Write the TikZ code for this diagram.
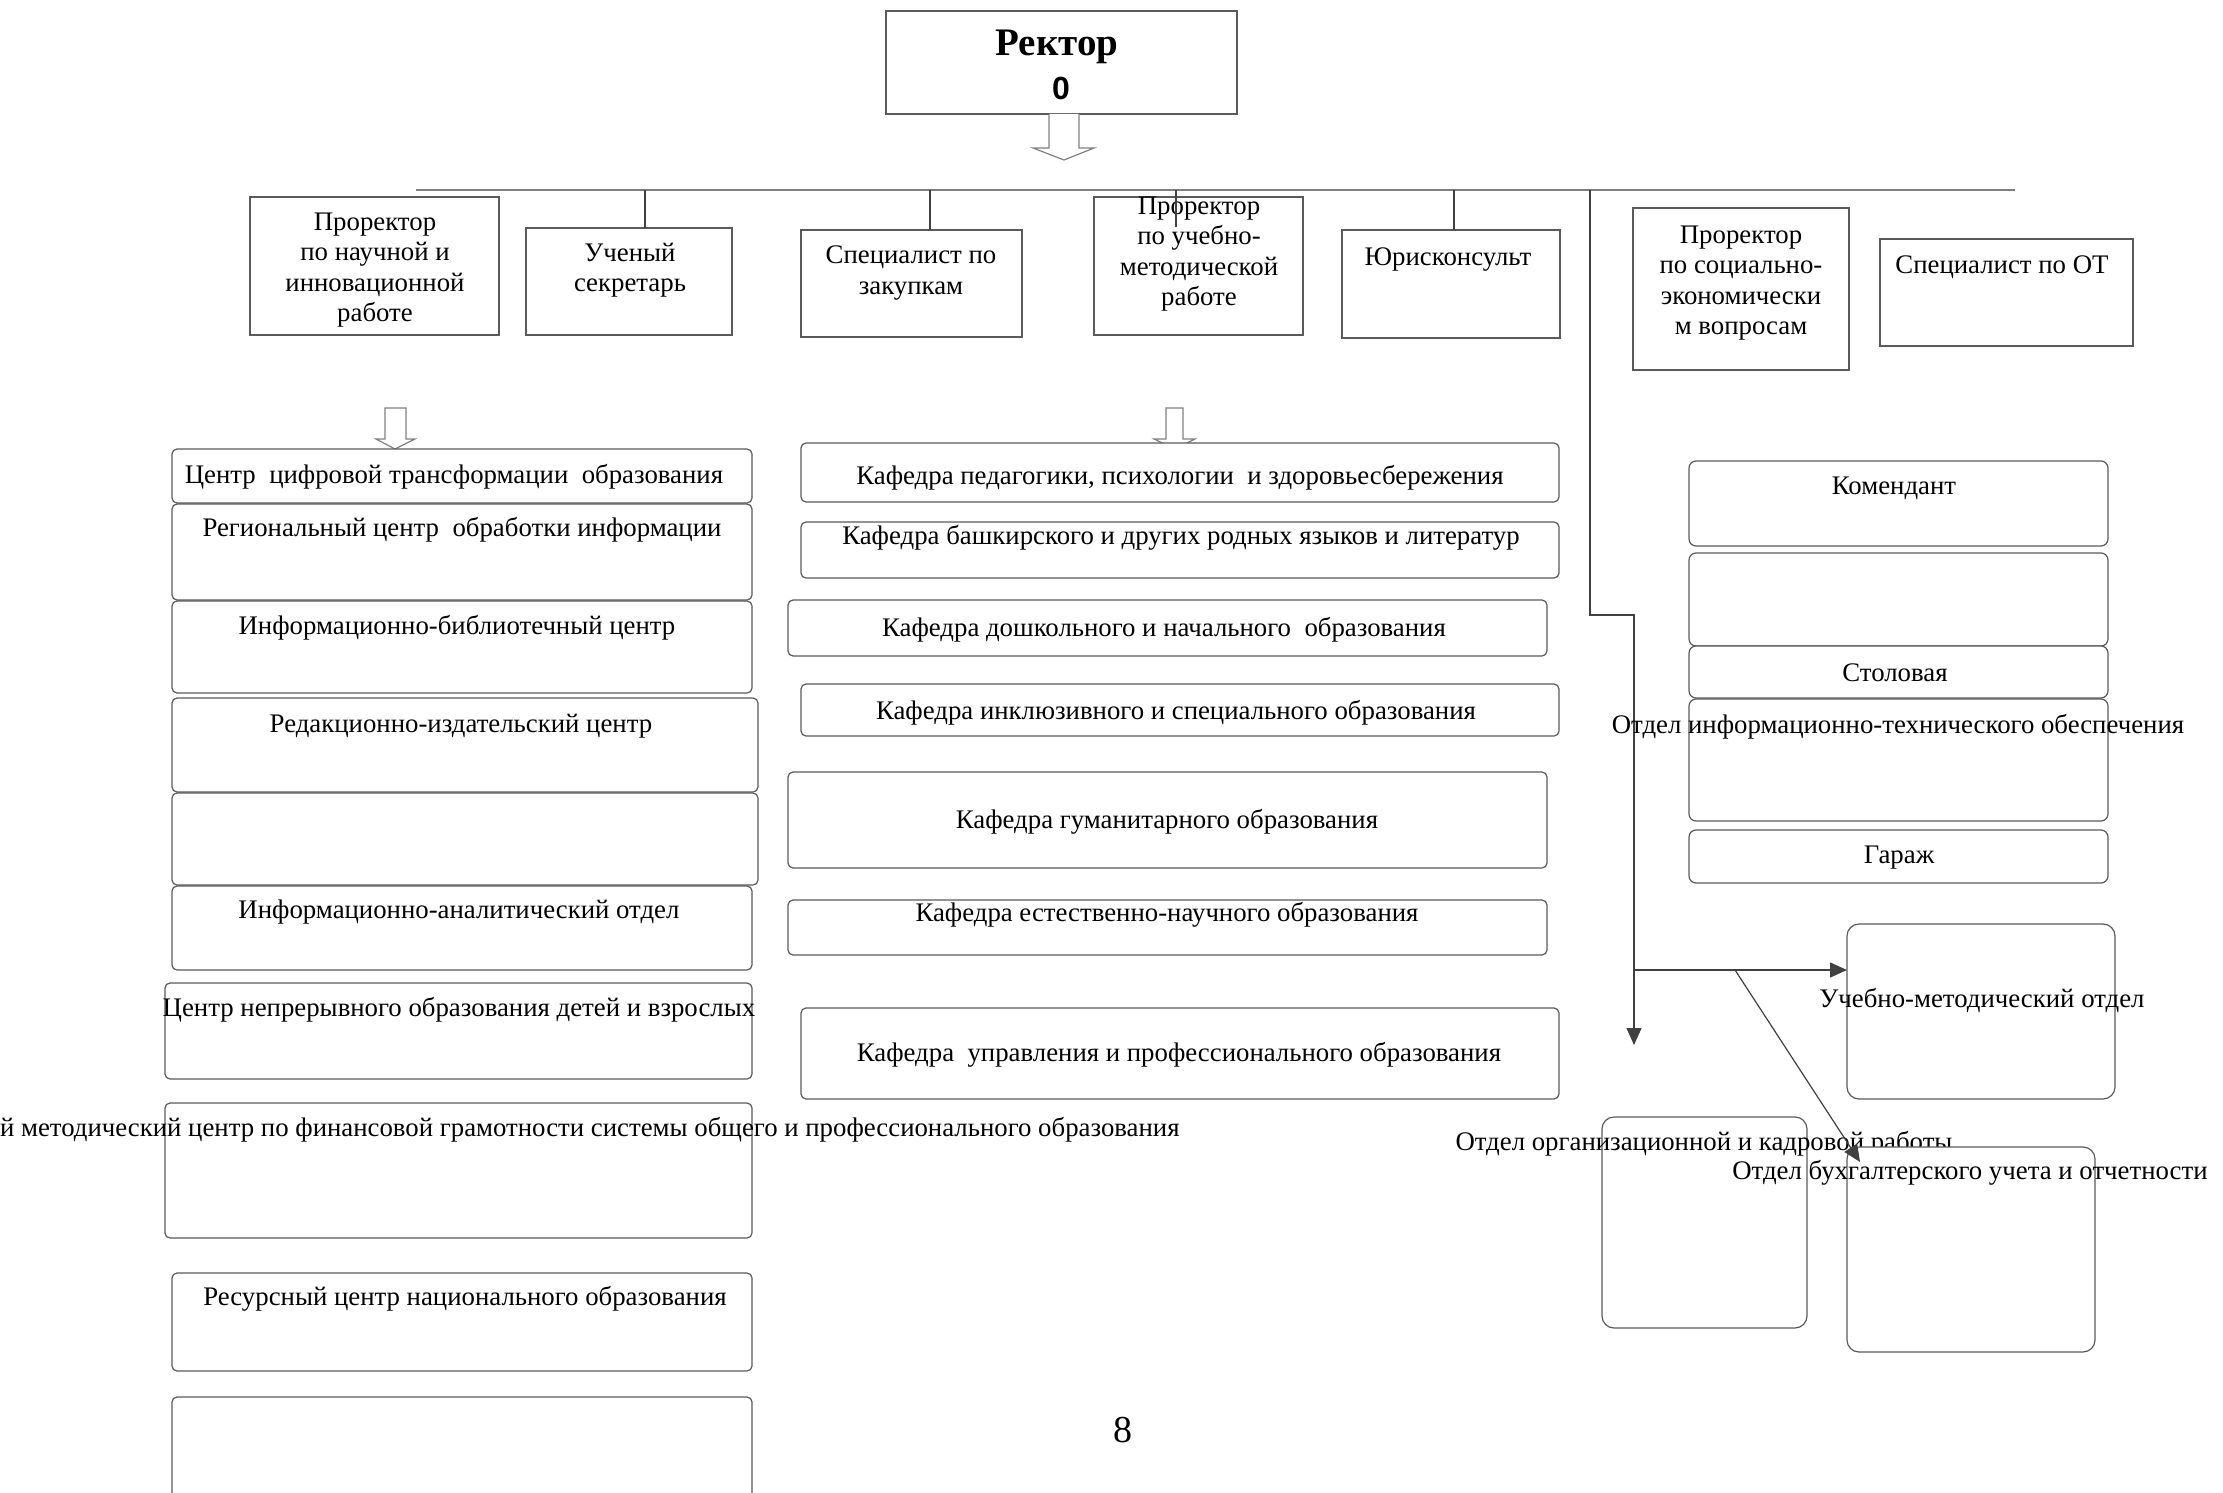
\documentclass[tikz,border=0pt]{standalone}
\usepackage{fontspec}
\setmainfont{Liberation Serif}
\newfontfamily\arialfont{Liberation Sans}
\usetikzlibrary{arrows.meta}
\definecolor{boxgray}{HTML}{5A5A5A}
\definecolor{linegray}{HTML}{808080}
\definecolor{conngray}{HTML}{404040}
\newcommand{\mkbox}[6][]{\node[box,#1,minimum width={(#4-#2)*0.5pt},minimum height={(#5-#3)*0.5pt}] (#6) at ({(#2+#4)/2},{(#3+#5)/2}) {};}
\tikzset{
  box/.style={draw=boxgray, line width=0.6pt, fill=white, inner sep=0pt, outer sep=0pt},
  rbox/.style={rounded corners=2.5pt},
  bigr/.style={rounded corners=6pt},
  lbl/.style={font=\fontsize{13.4}{15.3}\selectfont, inner sep=0pt, align=center},
  conn/.style={draw=conngray, line width=0.6pt},
  mainline/.style={draw=linegray, line width=1.1pt},
  tip/.style={-{Triangle[length=8.5pt,width=7.5pt]}},
  blockarrow/.style={draw=linegray, line width=0.6pt, fill=white}
}
\begin{document}
\begin{tikzpicture}[x=0.5pt,y=-0.5pt]
\useasboundingbox (0,0) rectangle (2223,1493);
\clip (0,0) rectangle (2223,1493);

% Rector
\mkbox{886}{11}{1237}{114}{rector}
\node[font=\fontsize{19.5}{20}\selectfont\bfseries, inner sep=0pt] (rt) at (1057,47) {Ректор};
\node[font=\arialfont\bfseries\fontsize{16}{18}\selectfont, inner sep=0pt] (r0) at (1061,88) {0};
\draw[blockarrow] (1049,114) -- (1049,148) -- (1033,148) -- (1064,160) -- (1094,148) -- (1079,148) -- (1079,114);

% main horizontal line
\coordinate (hl) at (416,190);
\coordinate (hr) at (2015,190);
\draw[mainline] (hl) -- (hr);

% top row boxes
\mkbox{250}{197}{499}{335}{pnr}
\mkbox{526}{228}{732}{335}{sec}
\mkbox{801}{230}{1022}{337}{zak}
\mkbox{1094}{197}{1303}{335}{pum}
\mkbox{1342}{230}{1560}{338}{jur}
\mkbox{1633}{208}{1849}{370}{pse}
\mkbox{1880}{239}{2133}{346}{sot}

\node[lbl] (tpnr) at (375,270) {Проректор\\по научной и\\инновационной\\работе};
\node[lbl] (tsec) at (630,270) {Ученый\\секретарь};
\node[lbl] (tzak) at (911,273) {Специалист по\\закупкам};
\node[lbl] (tpum) at (1199,254) {Проректор\\по учебно-\\методической\\работе};
\node[lbl] (tjur) at (1448,260) {Юрисконсульт};
\node[lbl] (tpse) at (1741,283) {Проректор\\по социально-\\экономически\\м вопросам};
\node[lbl] (tsot) at (2002,267) {Специалист по ОТ};

% connectors from main line
\coordinate (j1) at (645,190);
\coordinate (j2) at (930,190);
\coordinate (j3) at (1176,190);
\coordinate (j3e) at (1176,227);
\coordinate (j4) at (1454,190);
\coordinate (j5) at (1590,190);
\draw[conn] (j1) -- (j1 |- sec.north);
\draw[conn] (j2) -- (j2 |- zak.north);
\draw[conn] (j3) -- (j3e);
\draw[conn] (j4) -- (j4 |- jur.north);

% left block arrow
\draw[blockarrow] (385,408) -- (385,439) -- (376,439) -- (395,449) -- (415,439) -- (406,439) -- (406,408) -- cycle;
% middle block arrow
\draw[blockarrow] (1166,408) -- (1166,439) -- (1154,439) -- (1175,449) -- (1195,439) -- (1183,439) -- (1183,408) -- cycle;

% left column
\mkbox[rbox]{172}{449}{752}{503}{l1}
\mkbox[rbox]{172}{504}{752}{600}{l2}
\mkbox[rbox]{172}{601}{752}{693}{l3}
\mkbox[rbox]{172}{698}{758}{792}{l4}
\mkbox[rbox]{172}{793}{758}{885}{l5}
\mkbox[rbox]{172}{886}{752}{970}{l6}
\mkbox[rbox]{165}{983}{752}{1079}{l7}
\mkbox[rbox]{165}{1103}{752}{1238}{l8}
\mkbox[rbox]{172}{1273}{752}{1371}{l9}
\mkbox[rbox]{172}{1397}{752}{1560}{l10}

\node[lbl] (tl1) at (454,477) {Центр\ \ цифровой трансформации\ \ образования};
\node[lbl] (tl2) at (462,530) {Региональный центр\ \ обработки информации};
\node[lbl] (tl3) at (457,628) {Информационно-библиотечный центр};
\node[lbl] (tl4) at (461,726) {Редакционно-издательский центр};
\node[lbl] (tl6) at (459,912) {Информационно-аналитический отдел};
\node[lbl] (tl7) at (459,1010) {Центр непрерывного образования детей и взрослых};
\node[lbl, anchor=east] (tl8) at (1180,1130) {Республиканский методический центр по финансовой грамотности системы общего и профессионального образования};
\node[lbl] (tl9) at (465,1299) {Ресурсный центр национального образования};

% middle column
\mkbox[rbox]{801}{443}{1559}{502}{k1}
\mkbox[rbox]{801}{522}{1559}{578}{k2}
\mkbox[rbox]{788}{600}{1547}{656}{k3}
\mkbox[rbox]{801}{684}{1559}{736}{k4}
\mkbox[rbox]{788}{772}{1547}{868}{k5}
\mkbox[rbox]{788}{900}{1547}{955}{k6}
\mkbox[rbox]{801}{1008}{1559}{1099}{k7}

\node[lbl] (tk1) at (1180,478) {Кафедра педагогики, психологии\ \ и здоровьесбережения};
\node[lbl] (tk2) at (1181,538) {Кафедра башкирского и других родных языков и литератур};
\node[lbl] (tk3) at (1164,630) {Кафедра дошкольного и начального\ \ образования};
\node[lbl] (tk4) at (1176,713) {Кафедра инклюзивного и специального образования};
\node[lbl] (tk5) at (1167,822) {Кафедра гуманитарного образования};
\node[lbl] (tk6) at (1167,915) {Кафедра естественно-научного образования};
\node[lbl] (tk7) at (1179,1055) {Кафедра\ \ управления и профессионального образования};

% right column
\mkbox[rounded corners=3.5pt]{1689}{461}{2108}{546}{r1}
\mkbox[rounded corners=3.5pt]{1689}{553}{2108}{646}{r2}
\mkbox[rounded corners=3.5pt]{1689}{646}{2108}{698}{r3}
\mkbox[rounded corners=3.5pt]{1689}{699}{2108}{821}{r4}
\mkbox[rounded corners=3.5pt]{1689}{830}{2108}{883}{r5}

% long connector
\coordinate (k1c) at (1590,615);
\coordinate (k2c) at (1634,615);
\coordinate (k3c) at (1634,970);
\coordinate (k4c) at (1634,1045);
\coordinate (k5c) at (1735,970);
\coordinate (k6c) at (1860,1162);
\draw[conn] (j5) -- (k1c) -- (k2c) -- (k3c);

\node[lbl] (tr1) at (1894,488) {Комендант};
\node[lbl] (tr3) at (1895,673) {Столовая};
\node[lbl] (tr4) at (1898,727) {Отдел информационно-технического обеспечения};
\node[lbl] (tr5) at (1899,858) {Гараж};

% bottom right boxes
\mkbox[bigr]{1847}{924}{2115}{1099}{umo}
\node[lbl] (tumo) at (1982,1000) {Учебно-методический отдел};
\mkbox[bigr]{1602}{1117}{1807}{1328}{org}
\node[lbl] (torg) at (1704,1144) {Отдел организационной и кадровой работы};
\mkbox[bigr]{1847}{1147}{2095}{1352}{buh}
\node[lbl] (tbuh) at (1970,1173) {Отдел бухгалтерского учета и отчетности};

\draw[conn, tip] (k3c) -- (k4c);
\draw[conn, tip] (k3c) -- (k3c -| umo.west);
\draw[conn, tip] (k5c) -- (k6c);

% page number
\node[font=\fontsize{19}{20}\selectfont, inner sep=0pt] (pg) at (1123,1430) {8};
\end{tikzpicture}
\end{document}
